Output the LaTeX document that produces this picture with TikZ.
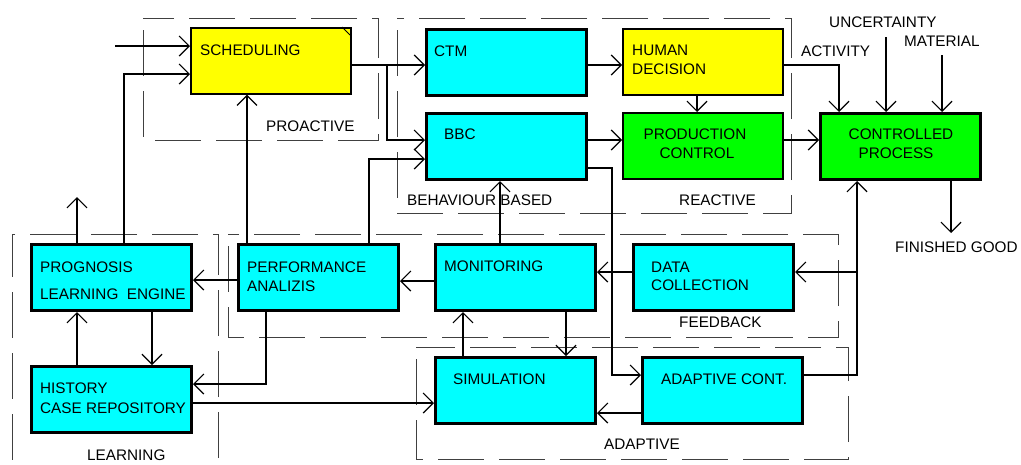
\documentclass[tikz,border=0pt]{standalone}
\usepackage{fontspec}
\setmainfont{Liberation Sans}
\usetikzlibrary{arrows.meta}
\definecolor{cy}{RGB}{0,255,255}
\definecolor{ye}{RGB}{255,255,0}
\definecolor{gr}{RGB}{0,255,0}
\begin{document}
\begin{tikzpicture}[x=1pt,y=-1pt,
  thinbox/.style={draw=black,line width=1.6pt,minimum width=160pt,minimum height=66pt,inner sep=0pt,anchor=north west},
  thickbox/.style={draw=black,line width=3pt,minimum width=160pt,minimum height=66pt,inner sep=0pt,anchor=north west},
  txt/.style={anchor=base west,inner sep=0pt,font=\fontsize{15.3}{19}\selectfont},
  ctxt/.style={anchor=base,inner sep=0pt,align=center,font=\fontsize{15.3}{19}\selectfont},
  conn/.style={line width=1.2pt},
  arr/.style={conn,-{Straight Barb[length=10pt,width=20pt]}},
  grp/.style={draw=black!75,line width=0.9pt,dash pattern=on 46pt off 15pt,dash phase=-12pt}]
\useasboundingbox (0,0) rectangle (1021,464);
% group frames
\draw[grp] (143,18) rectangle (378,140);
\draw[grp] (397,18) rectangle (791,213);
\draw[grp] (218,470) -- (218,234) -- (12,234) -- (12,470);
\draw[grp] (228,234) rectangle (838,337);
\draw[grp] (416,347) rectangle (848,459);
% boxes
\node[thinbox,fill=ye] (sched) at (190,27) {};
\draw[line width=1pt] (342,27) -- (350,35);
\node[thickbox,fill=cy] (ctm) at (425,28) {};
\node[thinbox,fill=ye] (hum) at (622,28) {};
\node[thickbox,fill=cy] (bbc) at (425,112) {};
\node[thinbox,fill=gr] (prod) at (622,112) {};
\node[thickbox,fill=gr] (cp) at (819,112) {};
\node[thickbox,fill=cy] (prog) at (30,243) {};
\node[thickbox,fill=cy] (perf) at (237,243) {};
\node[thickbox,fill=cy] (mon) at (434,243) {};
\node[thickbox,fill=cy] (data) at (632,243) {};
\node[thickbox,fill=cy] (hist) at (30,365) {};
\node[thickbox,fill=cy] (sim) at (434,356) {};
\node[thickbox,fill=cy] (adapt) at (641,356) {};
% texts
\node[txt] (tsched) at (200,55) {SCHEDULING};
\node[txt] (tctm) at (434,56.5) {CTM};
\node[txt] (thum) at (632,55.5) {HUMAN};
\node[txt] (thum2) at (632,74.5) {DECISION};
\node[txt] (tbbc) at (444,139.5) {BBC};
\node[ctxt] (tprod) at (695,139.5) {PRODUCTION};
\node[ctxt] (tprod2) at (697,158.5) {CONTROL};
\node[ctxt] (tcp) at (901,139.5) {CONTROLLED};
\node[ctxt] (tcp2) at (896,158.5) {PROCESS};
\node[txt] (tprog) at (40,272.5) {PROGNOSIS};
\node[txt] (tprog2) at (40,299.5) {LEARNING\ \ ENGINE};
\node[txt] (thist) at (40,393.5) {HISTORY};
\node[txt] (thist2) at (40,413.5) {CASE REPOSITORY};
\node[txt] (tperf) at (247,272.5) {PERFORMANCE};
\node[txt] (tperf2) at (247,291.5) {ANALIZIS};
\node[txt] (tmon) at (444,271.5) {MONITORING};
\node[txt] (tdata) at (651,272.5) {DATA};
\node[txt] (tdata2) at (651,290.5) {COLLECTION};
\node[txt] (tsim) at (453,384.5) {SIMULATION};
\node[txt] (tadapt) at (661,384.5) {ADAPTIVE CONT.};
\node[txt] (lpro) at (266,131) {PROACTIVE};
\node[txt] (lbeh) at (407,205.5) {BEHAVIOUR BASED};
\node[txt] (lrea) at (679,205.5) {REACTIVE};
\node[txt] (lfee) at (679,327.5) {FEEDBACK};
\node[txt] (lada) at (604,449.5) {ADAPTIVE};
\node[txt] (llea) at (87,460.5) {LEARNING};
\node[txt] (lact) at (801,56.5) {ACTIVITY};
\node[txt] (lunc) at (829,27.5) {UNCERTAINTY};
\node[txt] (lmat) at (904,46.5) {MATERIAL};
\node[txt] (lfin) at (895,252.5) {FINISHED GOOD};
% connector end points
\coordinate (inS) at (115,46);
\coordinate (unc) at (886,37);
\coordinate (mat) at (942,55);
\coordinate (fin) at (951,233);
\coordinate (progup) at (77,197);
% connectors
\draw[arr] (inS) -- (sched.west |- inS);
\draw[arr] (prog.north -| 124,0) |- (sched.west |- 0,74);
\draw[arr] (perf.north -| 247,0) -- (sched.south -| 247,0);
\draw[arr] (perf.north -| 369,0) |- (bbc.west |- 0,159);
\draw[arr] (sched.east |- 0,65) -- (ctm.west |- 0,65);
\draw[arr] (387,65) |- (bbc.west |- 0,140);
\draw[arr] (ctm.east |- 0,65) -- (hum.west |- 0,65);
\draw[arr] (hum.south -| 697,0) -- (prod.north -| 697,0);
\draw[arr] (bbc.east |- 0,140) -- (prod.west |- 0,140);
\draw[arr] (prod.east |- 0,140) -- (cp.west |- 0,140);
\draw[arr] (hum.east |- 0,65) -| (cp.north -| 839,0);
\draw[arr] (unc) -- (cp.north -| unc);
\draw[arr] (mat) -- (cp.north -| mat);
\draw[arr] (cp.south -| fin) -- (fin);
\draw[arr] (mon.north -| 500,0) -- (bbc.south -| 500,0);
\draw[arr] (bbc.east |- 0,168) -| (612,375) -- (adapt.west |- 0,375);
\draw[arr] (adapt.east |- 0,375) -| (cp.south -| 857,0);
\draw[arr] (857,272) -- (data.east |- 0,272);
\draw[arr] (data.west |- 0,272) -- (mon.east |- 0,272);
\draw[arr] (mon.west |- 0,281) -- (perf.east |- 0,281);
\draw[arr] (perf.west |- 0,280) -- (prog.east |- 0,280);
\draw[arr] (prog.north -| progup) -- (progup);
\draw[arr] (hist.north -| 77,0) -- (prog.south -| 77,0);
\draw[arr] (prog.south -| 152,0) -- (hist.north -| 152,0);
\draw[arr] (perf.south -| 266,0) |- (hist.east |- 0,384);
\draw[arr] (hist.east |- 0,403) -- (sim.west |- 0,403);
\draw[arr] (sim.north -| 463,0) -- (mon.south -| 463,0);
\draw[arr] (mon.south -| 566,0) -- (sim.north -| 566,0);
\draw[arr] (adapt.west |- 0,413) -- (sim.east |- 0,413);
\end{tikzpicture}
\end{document}
